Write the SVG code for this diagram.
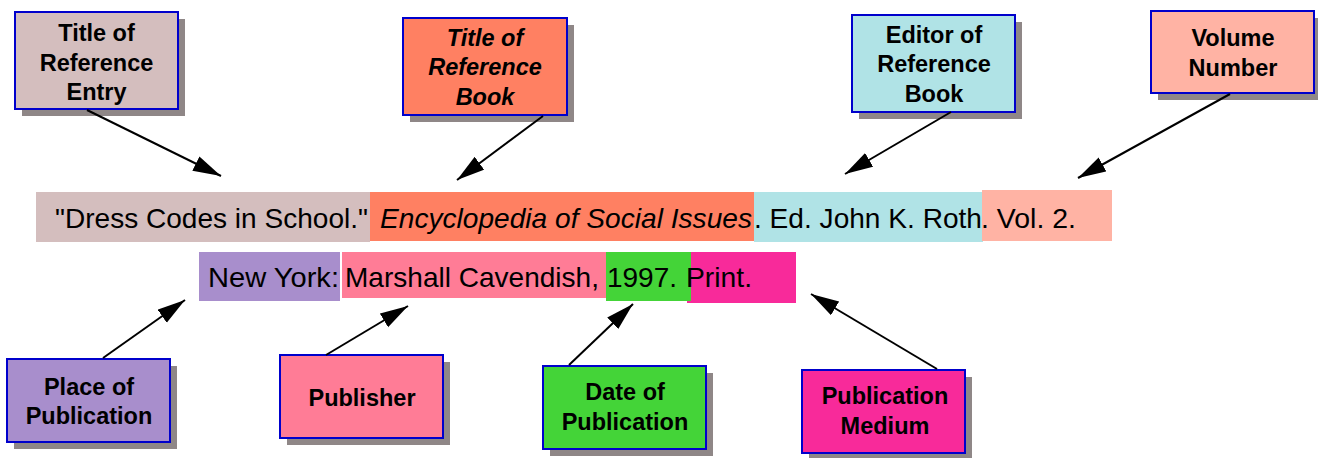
<svg xmlns="http://www.w3.org/2000/svg" width="1318" height="458" viewBox="0 0 1318 458">
<style>
.shadow{fill:#8f8787}
.box{stroke:#0000cc;stroke-width:2}
.lbl{font-family:"Liberation Sans",Arial,sans-serif;font-weight:bold;font-size:23.5px;fill:#000;text-anchor:middle}
.it{font-style:italic}
.cite{font-family:"Liberation Sans",Arial,sans-serif;font-size:28px;fill:#000}
.conn line{stroke:#000;stroke-width:2;marker-end:url(#ah)}
</style>
<defs>
<marker id="ah" markerUnits="userSpaceOnUse" markerWidth="30" markerHeight="18" refX="28" refY="8" orient="auto">
<path d="M0,0 L28,8 L0,16 z" fill="#000"/>
</marker>
</defs>
<rect width="1318" height="458" fill="#fff"/>

<g id="citation">
<rect x="36" y="192" width="334" height="50" fill="#d4bebe"/>
<rect x="370" y="192" width="384" height="49" fill="#ff8062"/>
<rect x="754" y="192" width="229" height="50" fill="#b0e3e6"/>
<rect x="982" y="190" width="130" height="51" fill="#ffb3a4"/>
<rect x="199" y="252" width="141" height="49" fill="#a88ecc"/>
<rect x="342" y="252" width="264" height="46" fill="#ff7c96"/>
<rect x="687" y="252" width="109" height="51" fill="#f82a9a"/>
<rect x="606" y="252" width="85" height="49" fill="#44d438"/>
<text class="cite" x="55" y="228" textLength="313" lengthAdjust="spacingAndGlyphs">"Dress Codes in School."</text>
<text class="cite it" x="380" y="228" textLength="372" lengthAdjust="spacingAndGlyphs">Encyclopedia of Social Issues</text>
<text class="cite" x="754" y="228" textLength="228" lengthAdjust="spacingAndGlyphs">. Ed. John K. Roth</text>
<text class="cite" x="981" y="228" textLength="95" lengthAdjust="spacingAndGlyphs">. Vol. 2.</text>
<text class="cite" x="208" y="287" textLength="131" lengthAdjust="spacingAndGlyphs">New York:</text>
<text class="cite" x="345" y="287" textLength="254" lengthAdjust="spacingAndGlyphs">Marshall Cavendish,</text>
<text class="cite" x="607" y="287" textLength="70" lengthAdjust="spacingAndGlyphs">1997.</text>
<text class="cite" x="686" y="287" textLength="66" lengthAdjust="spacingAndGlyphs">Print.</text>
</g>

<g id="node-title-entry">
<rect class="shadow" x="22" y="19" width="163" height="97"/>
<rect class="box" x="15" y="12" width="163" height="97" fill="#d4bebe"/>
<text class="lbl" x="96.5" y="41">Title of</text>
<text class="lbl" x="96.5" y="70.5">Reference</text>
<text class="lbl" x="96.5" y="100">Entry</text>
</g>

<g id="node-title-book">
<rect class="shadow" x="410" y="25" width="164" height="97"/>
<rect class="box" x="403" y="18" width="164" height="97" fill="#ff8062"/>
<text class="lbl it" x="485" y="45.5">Title of</text>
<text class="lbl it" x="485" y="75">Reference</text>
<text class="lbl it" x="485" y="105">Book</text>
</g>

<g id="node-editor">
<rect class="shadow" x="859" y="22" width="163" height="97"/>
<rect class="box" x="852" y="15" width="163" height="97" fill="#b0e3e6"/>
<text class="lbl" x="934" y="42.5">Editor of</text>
<text class="lbl" x="934" y="72">Reference</text>
<text class="lbl" x="934" y="101.5">Book</text>
</g>

<g id="node-volume">
<rect class="shadow" x="1158" y="18" width="163" height="82"/>
<rect class="box" x="1151" y="11" width="163" height="82" fill="#ffb3a4"/>
<text class="lbl" x="1233" y="46">Volume</text>
<text class="lbl" x="1233" y="76">Number</text>
</g>

<g id="node-place">
<rect class="shadow" x="14" y="366" width="163" height="83"/>
<rect class="box" x="7" y="359" width="163" height="83" fill="#a88ecc"/>
<text class="lbl" x="89" y="395">Place of</text>
<text class="lbl" x="89" y="424">Publication</text>
</g>

<g id="node-publisher">
<rect class="shadow" x="287" y="362" width="163" height="83"/>
<rect class="box" x="280" y="355" width="163" height="83" fill="#ff7c96"/>
<text class="lbl" x="362" y="406">Publisher</text>
</g>

<g id="node-date">
<rect class="shadow" x="550" y="373" width="163" height="83"/>
<rect class="box" x="543" y="366" width="163" height="83" fill="#44d438"/>
<text class="lbl" x="625" y="400">Date of</text>
<text class="lbl" x="625" y="430">Publication</text>
</g>

<g id="node-medium">
<rect class="shadow" x="809" y="377" width="163" height="83"/>
<rect class="box" x="802" y="370" width="163" height="83" fill="#f82a9a"/>
<text class="lbl" x="885" y="404">Publication</text>
<text class="lbl" x="885" y="434">Medium</text>
</g>

<g id="connectors" class="conn">
<line x1="87" y1="110" x2="221" y2="176"/>
<line x1="543" y1="116" x2="457" y2="180"/>
<line x1="951" y1="112" x2="845" y2="174"/>
<line x1="1230" y1="94" x2="1078" y2="178"/>
<line x1="103" y1="358" x2="185" y2="300"/>
<line x1="326" y1="355" x2="408" y2="306"/>
<line x1="569" y1="365" x2="633" y2="304"/>
<line x1="937" y1="369" x2="811" y2="294"/>
</g>
</svg>
